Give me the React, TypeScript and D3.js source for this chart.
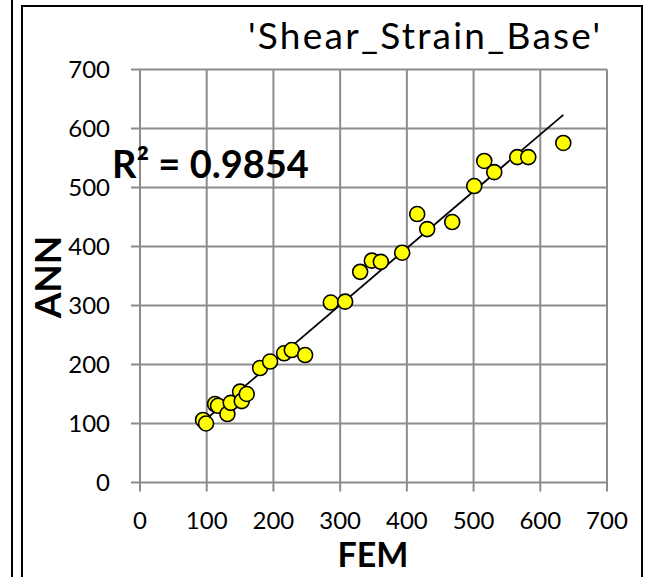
import React from "react";
import * as d3 from "d3";

const title = "'Shear_Strain_Base'";
const xLabel = "FEM";
const yLabel = "ANN";
const r2Label = "R² = 0.9854";
const xTicks = [0, 100, 200, 300, 400, 500, 600, 700];
const yTicks = [0, 100, 200, 300, 400, 500, 600, 700];
const femValues = [94.5, 99, 112.5, 117, 131, 136, 150, 152.5, 160, 180, 195, 216, 227.5, 247.5, 286, 307.5, 330, 347.5, 361, 393, 415.5, 430.5, 468, 501, 516, 531, 565.5, 582, 634.5];
const annValues = [106, 100, 133, 130, 116, 135, 154, 138, 150, 194, 205, 219, 224.5, 216, 305, 306.5, 357, 376, 374, 389.5, 455, 429.5, 441.5, 502.5, 545, 526, 551.5, 551.5, 575.5];

const FONT = "Lato, 'Liberation Sans', sans-serif";

export default function App() {
  const W = 650, H = 577;
  const x = d3.scaleLinear().domain([0, 700]).range([140, 607]);
  const y = d3.scaleLinear().domain([0, 700]).range([482.5, 69.5]);
  const pts = femValues.map((f, i) => ({ f, a: annValues[i] }));
  const mx = d3.mean(femValues)!;
  const my = d3.mean(annValues)!;
  let sxy = 0, sxx = 0;
  pts.forEach(p => { sxy += (p.f - mx) * (p.a - my); sxx += (p.f - mx) ** 2; });
  const slope = sxy / sxx;
  const icpt = my - slope * mx;
  const [x0, x1] = d3.extent(femValues) as [number, number];
  const line = d3.line<number>().x(v => x(v)).y(v => y(slope * v + icpt));
  const grid = "#8c8c8c";
  return (
    <svg width={W} height={H} style={{ position: "absolute", left: 0, top: 0 }}>
      <rect x={0} y={0} width={W} height={H} fill="#fff" />
      <line x1={12} y1={0} x2={12} y2={H} stroke="#000" strokeWidth={2} />
      <rect x={22} y={6} width={620} height={H} fill="none" stroke="#000" strokeWidth={2} />
      {xTicks.map(t => (
        <line key={"gx" + t} x1={x(t)} x2={x(t)} y1={y(700)} y2={y(0) + 9} stroke={grid} strokeWidth={2} />
      ))}
      {yTicks.map(t => (
        <line key={"gy" + t} x1={x(0) - 9} x2={x(700)} y1={y(t)} y2={y(t)} stroke={grid} strokeWidth={2} />
      ))}
      {xTicks.map(t => (
        <text key={"tx" + t} x={x(t)} y={529} textAnchor="middle" fontFamily={FONT} fontSize={24} fill="#000">{t}</text>
      ))}
      {yTicks.map(t => (
        <text key={"ty" + t} x={110} y={y(t) + 8.5} textAnchor="end" fontFamily={FONT} fontSize={24} fill="#000">{t}</text>
      ))}
      <path d={line([x0, x1]) || ""} stroke="#000" strokeWidth={1.8} fill="none" />
      {pts.map((p, i) => (
        <circle key={i} cx={x(p.f)} cy={y(p.a)} r={7.5} fill="#ffff00" stroke="#000" strokeWidth={1.6} />
      ))}
      <text x={248} y={49} textLength={352} lengthAdjust="spacing" fontFamily={FONT} fontSize={37} fill="#000">{title}</text>
      <text x={112} y={178} fontFamily={FONT} fontSize={38} fontWeight="bold" fill="#000">{r2Label}</text>
      <text x={373} y={567} textAnchor="middle" fontFamily={FONT} fontSize={34} fontWeight="bold" fill="#000">{xLabel}</text>
      <text transform="translate(61,277) rotate(-90)" textAnchor="middle" fontFamily={FONT} fontSize={37} fontWeight="bold" fill="#000">{yLabel}</text>
    </svg>
  );
}
